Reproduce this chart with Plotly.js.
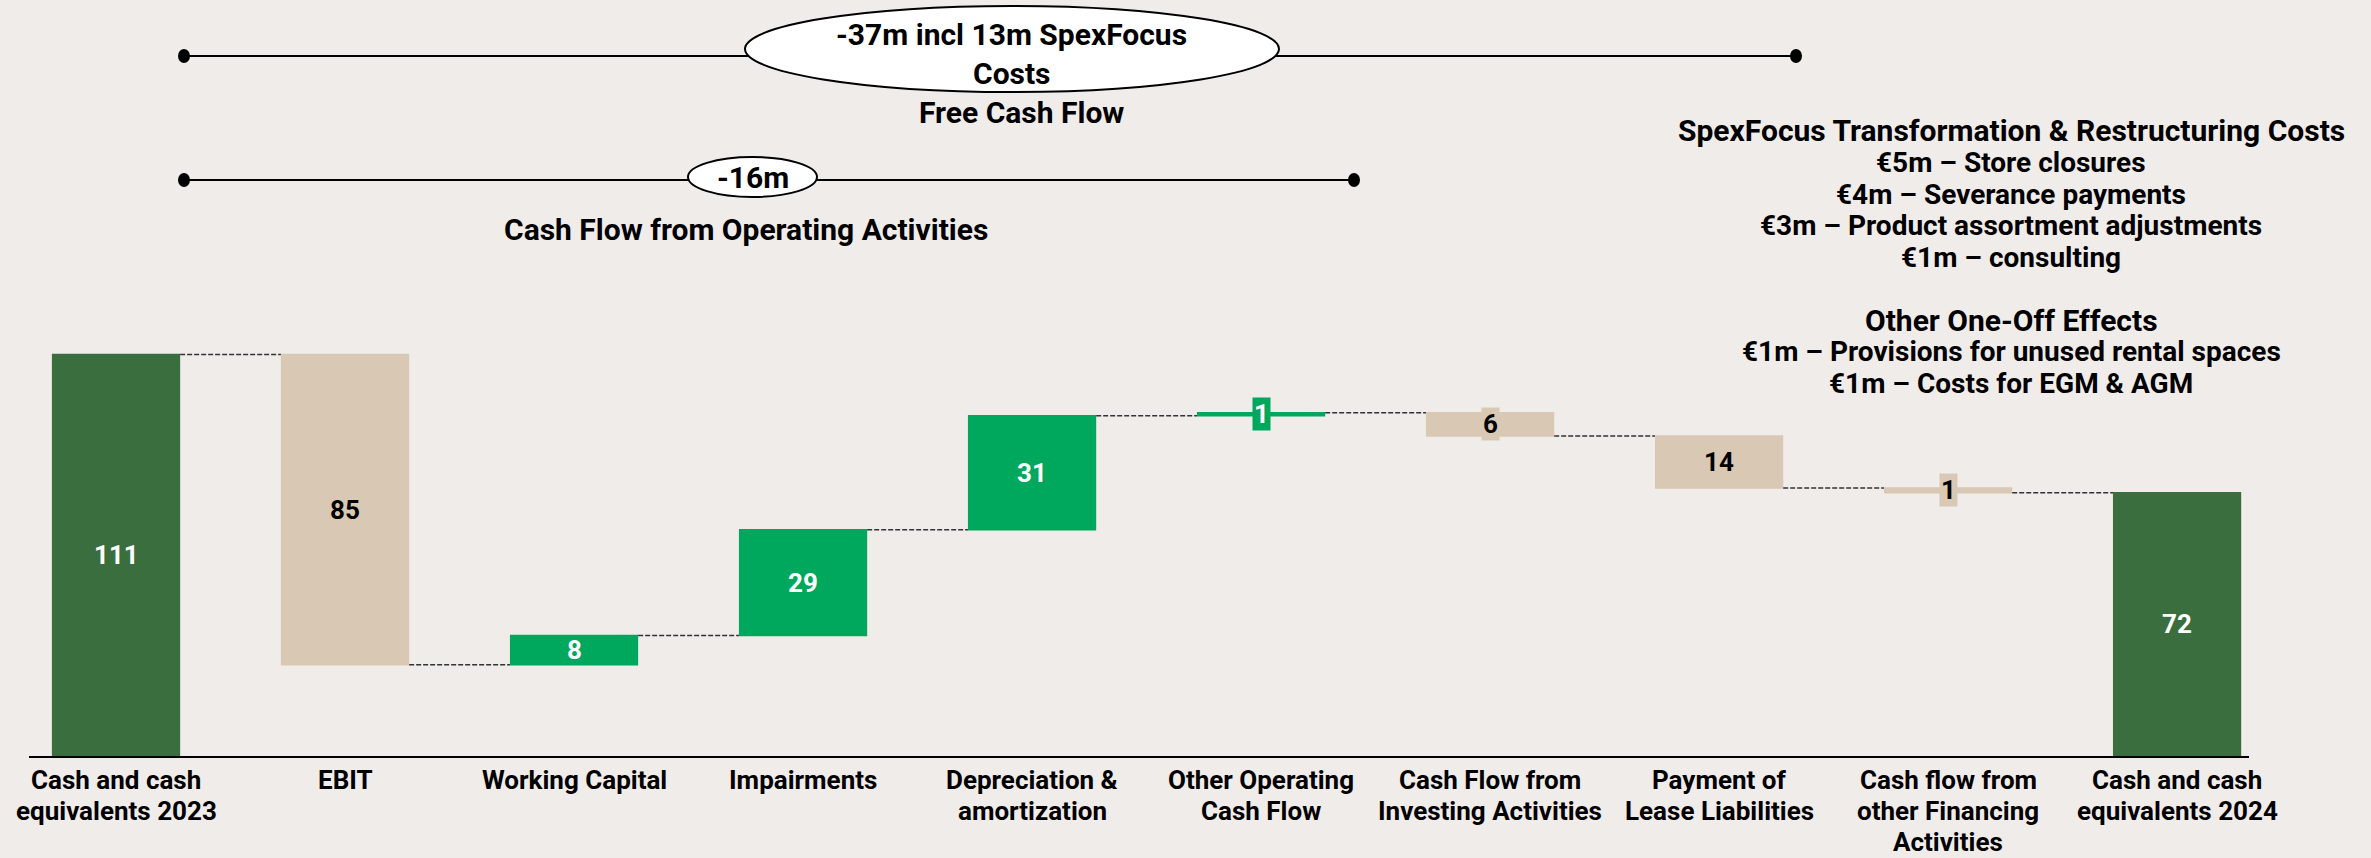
<!DOCTYPE html>
<html>
<head>
<meta charset="utf-8">
<script src="https://cdn.plot.ly/plotly-3.0.1.min.js"></script>
<style>
  html, body { margin: 0; padding: 0; background: #F0ECE9; }
  #chart { width: 2371px; height: 858px; }
</style>
</head>
<body>
<div id="chart"></div>
<script>
// ---- Data (EUR m) ----
const categories = [
  "Cash and cash<br>equivalents 2023",
  "EBIT",
  "Working Capital",
  "Impairments",
  "Depreciation &<br>amortization",
  "Other Operating<br>Cash Flow",
  "Cash Flow from<br>Investing Activities",
  "Payment of<br>Lease Liabilities",
  "Cash flow from<br>other Financing<br>Activities",
  "Cash and cash<br>equivalents 2024"
];
const measures = ["absolute", "relative", "relative", "relative", "relative", "relative", "relative", "relative", "relative", "total"];
const values = [111, -85.8, 8.1, 29.3, 31.5, 0.8, -6.4, -14.4, -1.3, 0];
const valueLabels = ["111", "85", "8", "29", "31", "1", "6", "14", "1", "72"];
const boxedLabel = [false, false, false, false, false, true, true, false, true, false];

const rightNotes = [
  "SpexFocus Transformation & Restructuring Costs",
  "€5m – Store closures",
  "€4m – Severance payments",
  "€3m – Product assortment adjustments",
  "€1m – consulting",
  "",
  "Other One-Off Effects",
  "€1m – Provisions for unused rental spaces",
  "€1m – Costs for EGM & AGM"
];
const rightNoteIsHeading = [true, false, false, false, false, false, true, false, false];

// ---- Colours ----
const BG = "#F0ECE9";
const DARK = "#3A6E3E";
const GREEN = "#00A85E";
const BEIGE = "#D8C8B4";
const FONT = "Roboto, 'Liberation Sans', sans-serif";

// ---- Layout geometry (pixels) ----
const W = 2371, H = 858;
const L = 29, R = 2249, T = 300, B = 756;
const px = x => (x - L) / (R - L);
const py = y => (B - y) / (B - T);

// cumulative levels for labels
const mids = [], colorsOf = [];
let level = 0;
for (let i = 0; i < values.length; i++) {
  let lo, hi, col;
  if (measures[i] === "absolute") { lo = 0; hi = values[i]; level = values[i]; col = DARK; }
  else if (measures[i] === "total") { lo = 0; hi = level; col = DARK; }
  else { const nl = level + values[i]; lo = Math.min(level, nl); hi = Math.max(level, nl); col = values[i] >= 0 ? GREEN : BEIGE; level = nl; }
  mids.push((lo + hi) / 2);
  colorsOf.push(col);
}

const trace = {
  type: "waterfall",
  x: categories,
  y: values,
  measure: measures,
  increasing: { marker: { color: GREEN } },
  decreasing: { marker: { color: BEIGE } },
  totals: { marker: { color: DARK } },
  connector: { mode: "between", line: { color: "#333333", width: 1.5, dash: "5px,2px" } },
  textposition: "none",
  hoverinfo: "skip",
  showlegend: false
};

const annotations = [];
for (let i = 0; i < categories.length; i++) {
  const col = colorsOf[i];
  const txtColor = col === BEIGE ? "#000000" : "#FFFFFF";
  const a = {
    x: categories[i], y: mids[i], xref: "x", yref: "y",
    text: valueLabels[i], showarrow: false,
    font: { family: FONT, size: 26, color: txtColor, weight: 700 },
    xanchor: "center", yanchor: "middle"
  };
  if (boxedLabel[i]) { a.bgcolor = col; a.borderpad = 1; }
  annotations.push(a);
}

// category labels, one annotation per line (tight line spacing as in the original)
categories.forEach(c => {
  c.split("<br>").forEach((line, k) => {
    annotations.push({
      text: line, x: c, xref: "x", y: py(780 + 31 * k), yref: "paper",
      showarrow: false, xanchor: "center", yanchor: "middle",
      font: { family: FONT, size: 26, color: "#000000", weight: 700 }
    });
  });
});

function txt(text, x, y, size) {
  annotations.push({
    text: text, x: px(x), y: py(y), xref: "paper", yref: "paper",
    showarrow: false, xanchor: "center", yanchor: "middle",
    font: { family: FONT, size: size, color: "#000000", weight: 700 }
  });
}

// bracket labels
txt("-37m incl 13m SpexFocus", 1012, 35, 30);
txt("Costs", 1012, 74, 30);
txt("Free Cash Flow", 1021, 113, 30);
txt("-16m", 753, 178, 30);
txt("Cash Flow from Operating Activities", 746, 229, 30);

// right-hand note block
const noteY = [130, 162, 194, 225, 257, 289, 320, 351, 383];
rightNotes.forEach((t, i) => { if (t) txt(t, 2011, noteY[i], rightNoteIsHeading[i] ? 30 : 28); });

const shapes = [];
function hline(x0, x1, y) {
  shapes.push({ type: "line", xref: "paper", yref: "paper", x0: px(x0), x1: px(x1), y0: py(y), y1: py(y), line: { color: "#000000", width: 2 } });
}
function dot(x, y) {
  shapes.push({ type: "circle", xref: "paper", yref: "paper", x0: px(x - 6), x1: px(x + 6), y0: py(y + 7), y1: py(y - 7), fillcolor: "#000000", line: { color: "#000000", width: 0 } });
}
function ellipse(x0, x1, y0, y1) {
  shapes.push({ type: "circle", xref: "paper", yref: "paper", x0: px(x0), x1: px(x1), y0: py(y1), y1: py(y0), fillcolor: "#FFFFFF", line: { color: "#000000", width: 2 } });
}
hline(184, 1796, 56); dot(184, 56); dot(1796, 56);
hline(184, 1354, 180); dot(184, 180); dot(1354, 180);
ellipse(745, 1279, 6, 92);
ellipse(688, 817, 157, 197);

const layout = {
  width: W, height: H,
  margin: { l: L, r: W - R, t: T, b: H - B, pad: 0 },
  paper_bgcolor: BG, plot_bgcolor: BG,
  waterfallgap: 0.44,
  xaxis: {
    type: "category",
    range: [-0.38, 9.314],
    showgrid: false, zeroline: false,
    showline: true, linecolor: "#000000", linewidth: 2,
    ticks: "", showticklabels: false,
    fixedrange: true
  },
  yaxis: {
    range: [0, 126.1],
    showgrid: false, zeroline: false, showticklabels: false, showline: false,
    fixedrange: true
  },
  annotations: annotations,
  shapes: shapes,
  font: { family: FONT }
};

Plotly.newPlot("chart", [trace], layout, { displayModeBar: false, staticPlot: true });
</script>
</body>
</html>
